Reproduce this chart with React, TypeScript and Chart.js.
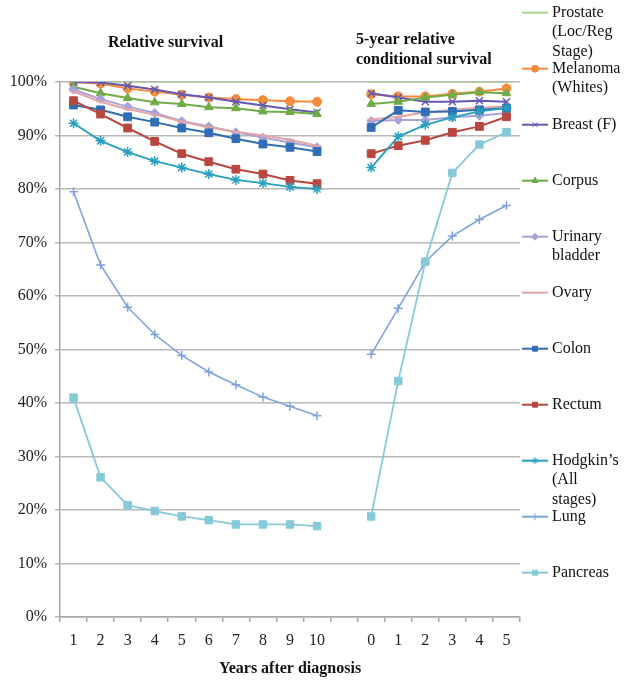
import React, { useEffect, useRef } from "react";
import { Chart, registerables } from "chart.js";
import { drawPoint } from "chart.js/helpers";

Chart.register(...registerables);

const yearsRelative = ["1", "2", "3", "4", "5", "6", "7", "8", "9", "10"];
const yearsConditional = ["0", "1", "2", "3", "4", "5"];

const prostateRel = [100, 100, 100, 100, 100, 100, 100, 100, 100, 100];
const prostateCond = [100, 100, 100, 100, 100, 100];
const melanomaRel = [100, 99.7, 98.8, 98.2, 97.6, 97.1, 96.8, 96.6, 96.4, 96.3];
const melanomaCond = [97.7, 97.3, 97.3, 97.8, 98.2, 98.8];
const breastRel = [100, 99.9, 99.3, 98.6, 97.7, 97.1, 96.3, 95.6, 94.9, 94.3];
const breastCond = [97.9, 97.1, 96.3, 96.3, 96.5, 96.3];
const corpusRel = [99.1, 97.9, 97.0, 96.2, 95.9, 95.3, 95.1, 94.5, 94.4, 94.0];
const corpusCond = [95.9, 96.3, 97.1, 97.6, 98.1, 97.9];
const bladderRel = [98.6, 96.8, 95.4, 94.2, 92.7, 91.7, 90.6, 89.6, 88.7, 87.8];
const bladderCond = [92.7, 92.9, 92.9, 93.4, 93.7, 94.2];
const ovaryRel = [98.2, 96.3, 94.9, 93.9, 92.6, 91.5, 90.7, 90.0, 89.2, 88.1];
const ovaryCond = [93.0, 93.5, 94.3, 94.8, 95.2, 95.4];
const colonRel = [95.7, 94.8, 93.5, 92.5, 91.4, 90.5, 89.4, 88.4, 87.8, 87.0];
const colonCond = [91.5, 94.7, 94.4, 94.5, 94.8, 95.1];
const rectumRel = [96.5, 94.0, 91.4, 88.9, 86.6, 85.1, 83.7, 82.8, 81.6, 81.0];
const rectumCond = [86.6, 88.1, 89.1, 90.6, 91.7, 93.5];
const hodgkinRel = [92.3, 89.0, 86.9, 85.2, 84.0, 82.8, 81.7, 81.1, 80.4, 80.0];
const hodgkinCond = [84.0, 89.8, 92.0, 93.4, 94.5, 95.1];
const lungRel = [79.5, 65.8, 57.9, 52.8, 48.9, 45.8, 43.4, 41.1, 39.4, 37.6];
const lungCond = [49.1, 57.7, 66.4, 71.2, 74.3, 76.9];
const pancreasRel = [41.0, 26.1, 20.9, 19.8, 18.8, 18.1, 17.3, 17.3, 17.3, 17.0];
const pancreasCond = [18.8, 44.1, 66.4, 83.0, 88.3, 90.6];

const seriesNames = [
  "Prostate\n(Loc/Reg\nStage)",
  "Melanoma\n(Whites)",
  "Breast (F)",
  "Corpus",
  "Urinary\nbladder",
  "Ovary",
  "Colon",
  "Rectum",
  "Hodgkin\u2019s\n(All\nstages)",
  "Lung",
  "Pancreas",
];

const seriesRel = [prostateRel, melanomaRel, breastRel, corpusRel, bladderRel, ovaryRel, colonRel, rectumRel, hodgkinRel, lungRel, pancreasRel];
const seriesCond = [prostateCond, melanomaCond, breastCond, corpusCond, bladderCond, ovaryCond, colonCond, rectumCond, hodgkinCond, lungCond, pancreasCond];

const colors = ["#a6d78c", "#f58b3d", "#6458b4", "#6fab46", "#a9a2d8", "#e3a5a3", "#2f6db5", "#b9473f", "#27a0c0", "#7fa3dc", "#86c9d9"];
const pointStyles = ["line", "circle", "crossRot", "triangle", "rectRot", "line", "rect", "rect", "star", "cross", "rect"];
const pointRadii = [4, 4.5, 5, 5, 4.5, 4, 5.5, 5.5, 5, 4.5, 5.3];
const lineWidths = [1.5, 2, 2, 2, 2, 2, 2, 2, 1.8, 1.6, 1.8];

const SERIF = "'Liberation Serif', 'Times New Roman', serif";

const overlayPlugin = {
  id: "overlay",
  afterDraw(chart: any) {
    const ctx = chart.ctx;
    ctx.save();
    ctx.fillStyle = "#111";
    ctx.textBaseline = "middle";
    ctx.textAlign = "left";
    ctx.font = `bold 16px ${SERIF}`;
    ctx.fillText("Relative survival", 108, 43);
    ctx.fillText("5-year relative", 356, 40);
    ctx.fillText("conditional survival", 356, 60);

    // legend
    chart.data.datasets.forEach((ds: any, i: number) => {
      const y0 = 12.7 + 56 * i;
      ctx.strokeStyle = ds.borderColor;
      ctx.lineWidth = 2;
      ctx.beginPath();
      ctx.moveTo(522, y0);
      ctx.lineTo(548, y0);
      ctx.stroke();
      if (ds.pointStyle !== "line") {
        ctx.fillStyle = ds.borderColor;
        ctx.strokeStyle = ds.borderColor;
        ctx.lineWidth = 1;
        drawPoint(ctx, { pointStyle: ds.pointStyle, radius: 3.5, rotation: 0, borderWidth: 1 }, 535, y0);
      }
      ctx.fillStyle = "#111";
      ctx.font = `16px ${SERIF}`;
      const lines = String(ds.label).split("\n");
      lines.forEach((t, k) => ctx.fillText(t, 552, y0 + k * 19.5));
    });
    ctx.restore();
  },
};

export default function App() {
  const ref = useRef<HTMLCanvasElement>(null);
  useEffect(() => {
    const labels = [...yearsRelative, "", ...yearsConditional];
    const n = seriesNames.length;
    const datasets = seriesNames.map((name, i) => ({
      label: name,
      data: [...seriesRel[i], null, ...seriesCond[i]],
      borderColor: colors[i],
      backgroundColor: colors[i],
      pointBackgroundColor: colors[i],
      pointBorderColor: colors[i],
      pointStyle: pointStyles[i],
      pointRadius: pointRadii[i],
      pointBorderWidth: pointStyles[i] === "line" || pointStyles[i] === "cross" || pointStyles[i] === "crossRot" || pointStyles[i] === "star" ? 1.5 : 1,
      borderWidth: lineWidths[i],
      spanGaps: false,
      tension: 0,
      order: n - i,
    }));
    const chart = new Chart(ref.current as HTMLCanvasElement, {
      type: "line",
      data: { labels, datasets },
      options: {
        responsive: false,
        animation: false,
        devicePixelRatio: 1,
        layout: { padding: { top: 82, right: 104, bottom: 0, left: 0 } },
        plugins: { legend: { display: false }, tooltip: { enabled: false } },
        scales: {
          x: {
            type: "category",
            offset: true,
            grid: { display: true, drawOnChartArea: false, drawTicks: true, tickLength: 5, offset: true, color: "#a8a8a8", lineWidth: 1.5 },
            border: { color: "#a8a8a8", width: 1.5 },
            ticks: { font: { family: SERIF, size: 16 }, color: "#222", padding: 9, maxRotation: 0, autoSkip: false },
            title: { display: true, text: "Years after diagnosis", font: { family: SERIF, size: 16, weight: "bold" }, color: "#111", padding: { top: 0, bottom: 3 } },
            afterFit: (s: any) => { s.height = 64; },
          },
          y: {
            min: 0,
            max: 100,
            ticks: { stepSize: 10, callback: (v: any) => v + "%", font: { family: SERIF, size: 16 }, color: "#222", padding: 8 },
            grid: { color: "#b8b8b8", lineWidth: 1.5, tickLength: 5 },
            border: { color: "#a8a8a8", width: 1.5 },
            afterFit: (s: any) => { s.width = 60; },
          },
        },
      },
      plugins: [overlayPlugin],
    } as any);
    return () => chart.destroy();
  }, []);
  return (
    <div style={{ position: "fixed", left: 0, top: 0, width: 624, height: 681, background: "#fff" }}>
      <canvas ref={ref} width={624} height={681} />
    </div>
  );
}
